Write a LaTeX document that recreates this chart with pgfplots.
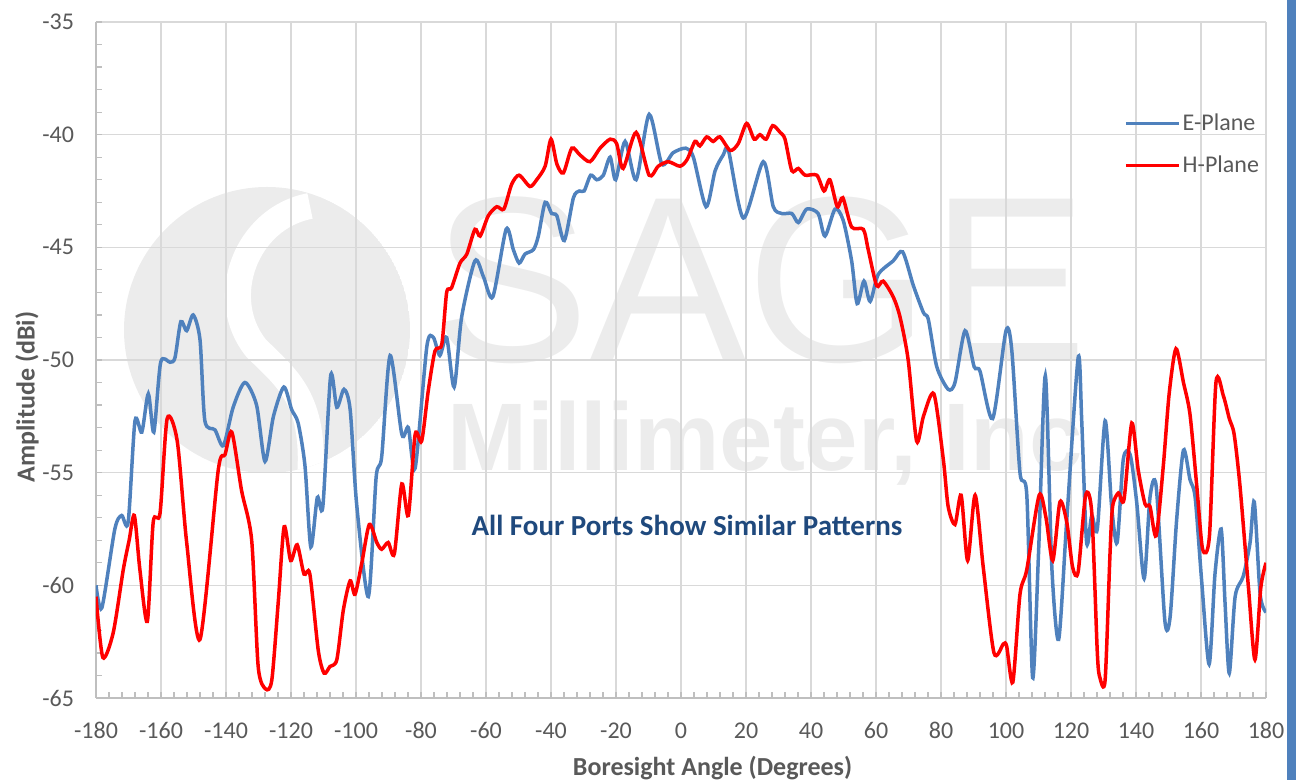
\documentclass[border=0pt]{standalone}
\usepackage{fontspec}
\setmainfont{Carlito}
\newfontfamily\wmfont{Liberation Sans}
\usepackage{pgfplots}
\usepackage{pgfplotstable}
\pgfplotsset{compat=1.18}

\definecolor{eplane}{HTML}{4F81BD}
\definecolor{hplane}{HTML}{FF0000}
\definecolor{txtgray}{HTML}{595959}
\definecolor{gridgray}{HTML}{D9D9D9}
\definecolor{axgray}{HTML}{BFBFBF}
\definecolor{wm}{HTML}{ECECEC}
\definecolor{note}{HTML}{1F497D}

% E-Plane pattern (angle in degrees, amplitude in dBi)
\pgfplotstableread{
ang amp
-180.0 -60.0
-178.2 -61.0
-174.2 -57.5
-172.1 -56.9
-170.1 -57.2
-168.0 -52.7
-165.9 -53.2
-163.9 -51.5
-162.2 -53.2
-160.1 -50.1
-157.2 -50.1
-155.7 -49.9
-153.9 -48.3
-152.1 -48.7
-150.1 -48.0
-148.0 -49.1
-146.5 -52.7
-143.4 -53.1
-140.8 -53.8
-137.8 -52.1
-134.2 -51.0
-130.6 -52.0
-128.0 -54.5
-125.4 -52.5
-122.2 -51.2
-119.8 -52.2
-117.8 -52.8
-115.7 -54.7
-113.9 -58.3
-111.9 -56.1
-110.2 -56.5
-107.8 -50.7
-105.9 -52.1
-103.7 -51.3
-101.8 -52.2
-99.8 -56.4
-96.2 -60.5
-93.8 -55.2
-92.1 -54.3
-89.5 -49.8
-85.9 -53.3
-83.9 -53.0
-81.8 -54.8
-78.2 -49.4
-76.2 -49.0
-74.2 -49.8
-72.1 -49.0
-69.8 -51.2
-67.5 -48.1
-63.4 -45.6
-60.8 -46.3
-57.9 -47.2
-53.8 -44.2
-51.6 -45.1
-49.8 -45.7
-48.0 -45.3
-45.4 -45.1
-43.9 -44.5
-41.8 -43.0
-39.8 -43.5
-38.2 -43.6
-35.9 -44.7
-33.1 -42.8
-31.3 -42.5
-29.8 -42.5
-27.8 -41.8
-25.9 -42.0
-23.9 -41.8
-21.8 -41.0
-20.1 -42.0
-17.2 -40.3
-13.8 -42.0
-9.8 -39.1
-5.9 -41.3
-2.4 -40.8
1.5 -40.6
3.8 -41.0
7.7 -43.2
10.5 -41.6
13.0 -40.9
14.6 -40.7
19.2 -43.7
25.3 -41.2
28.4 -43.2
31.0 -43.5
34.1 -43.5
36.1 -43.9
38.7 -43.3
42.2 -43.5
44.3 -44.5
47.4 -43.3
49.9 -43.8
52.5 -45.6
54.2 -47.5
56.3 -46.5
58.2 -47.4
60.7 -46.2
65.3 -45.6
68.2 -45.2
71.5 -46.7
74.6 -47.9
76.1 -48.2
78.7 -50.3
82.2 -51.3
84.3 -51.0
87.4 -48.7
90.2 -50.3
92.0 -50.5
95.9 -52.6
100.0 -48.7
101.8 -49.6
104.3 -55.0
106.4 -56.0
108.2 -64.1
110.0 -58.6
112.1 -50.7
114.1 -59.2
116.2 -62.4
118.7 -57.1
122.2 -49.9
123.3 -52.7
124.8 -58.1
126.4 -56.9
128.1 -57.5
130.5 -52.7
132.5 -56.5
134.2 -58.1
136.1 -54.4
138.2 -54.2
140.2 -56.3
142.5 -59.7
144.3 -56.1
146.2 -55.6
148.9 -61.6
150.5 -61.4
152.5 -57.1
154.6 -54.0
156.6 -55.3
158.2 -56.1
160.2 -59.8
162.5 -63.5
164.3 -59.5
166.2 -57.5
167.4 -60.8
168.7 -63.9
170.5 -60.5
173.0 -59.6
175.1 -58.1
176.4 -56.3
178.2 -60.4
180.0 -61.2
}\eplanedata

% H-Plane pattern
\pgfplotstableread{
ang amp
-180.0 -60.5
-177.9 -63.2
-174.7 -62.1
-171.6 -59.3
-169.8 -58.0
-168.2 -56.9
-166.5 -59.3
-164.2 -61.6
-162.4 -57.2
-160.3 -56.8
-158.1 -52.6
-155.0 -53.6
-152.1 -58.1
-148.0 -62.4
-142.4 -54.9
-140.3 -54.2
-138.2 -53.2
-135.2 -55.8
-132.1 -58.0
-130.1 -63.6
-127.8 -64.6
-125.9 -64.2
-123.9 -60.7
-122.1 -57.4
-120.1 -58.9
-118.1 -58.2
-116.0 -59.5
-114.2 -59.5
-111.6 -62.9
-109.8 -63.9
-108.0 -63.6
-105.9 -63.3
-103.9 -61.1
-101.8 -59.8
-100.3 -60.4
-98.2 -59.0
-95.9 -57.3
-93.6 -58.1
-92.1 -58.4
-90.1 -58.1
-88.2 -58.6
-85.9 -55.5
-83.9 -56.9
-81.8 -53.3
-79.8 -53.6
-77.8 -51.4
-75.7 -49.6
-73.6 -49.3
-72.1 -47.0
-70.6 -46.8
-68.0 -45.7
-65.9 -45.3
-63.4 -44.2
-61.8 -44.5
-59.3 -43.6
-56.7 -43.2
-54.5 -43.3
-52.1 -42.2
-49.8 -41.8
-46.5 -42.3
-44.4 -42.0
-41.8 -41.4
-40.0 -40.2
-38.2 -41.3
-36.2 -41.7
-33.6 -40.6
-31.1 -40.9
-28.0 -41.2
-24.9 -40.6
-21.8 -40.2
-19.8 -40.4
-17.8 -41.5
-13.8 -39.9
-9.8 -41.8
-7.0 -41.4
-3.9 -41.2
-0.3 -41.4
1.9 -41.1
4.3 -40.3
5.8 -40.5
7.9 -40.1
9.9 -40.3
12.0 -40.1
15.1 -40.7
17.6 -40.4
20.2 -39.5
22.5 -40.2
24.3 -40.0
26.2 -40.2
28.2 -39.6
30.5 -39.9
32.0 -40.2
34.1 -41.6
36.1 -41.5
38.2 -41.8
41.8 -41.8
44.0 -42.5
45.8 -42.0
48.1 -43.2
49.8 -42.8
52.5 -44.1
56.1 -44.2
57.6 -45.1
60.2 -46.7
62.2 -46.5
65.3 -47.2
67.4 -48.1
69.9 -50.0
72.5 -53.6
74.6 -52.5
77.8 -51.5
80.7 -54.4
82.2 -56.5
84.3 -57.3
86.2 -56.0
88.2 -58.9
90.5 -56.0
93.0 -59.2
96.3 -63.0
99.2 -62.6
100.2 -62.7
102.1 -64.3
104.3 -60.4
106.4 -59.3
110.2 -56.0
112.3 -57.0
114.4 -58.9
116.6 -56.3
118.7 -57.2
120.5 -59.2
122.2 -59.4
124.5 -56.0
126.4 -56.8
128.1 -63.0
128.9 -64.1
130.5 -64.2
132.0 -58.6
132.8 -56.5
134.6 -55.9
136.3 -56.2
138.7 -52.8
140.7 -54.9
142.8 -56.4
144.3 -56.5
146.2 -57.8
148.4 -54.7
150.2 -51.5
152.3 -49.5
154.6 -51.0
156.6 -52.4
158.7 -55.6
160.5 -58.4
162.6 -57.8
164.6 -51.0
166.9 -51.6
168.7 -52.6
170.2 -53.3
172.0 -55.6
174.6 -60.1
176.6 -63.3
178.4 -60.1
180.0 -59.0
}\hplanedata

\begin{document}
\begin{tikzpicture}
\useasboundingbox (-48pt,-41pt) rectangle (600pt,349pt);

% watermark behind the plot area
\begin{scope}
  \clip (85.5pt,184pt) circle (71.5pt);
  \fill[wm] (85.5pt,184pt) circle (71.5pt);
  \draw[white, line width=13pt] (107pt,246pt) .. controls (75pt,240pt) and (60pt,200pt) .. (80pt,175pt)
    .. controls (95pt,160pt) and (110pt,150pt) .. (107pt,110pt);
\end{scope}
\node[anchor=base, text=wm, inner sep=0pt, font=\wmfont\fontsize{118}{118}\selectfont] at (332pt,168pt) {SAGE};
\node[anchor=base, text=wm, inner sep=0pt, font=\wmfont\bfseries\fontsize{48}{48}\selectfont] at (334.5pt,113.5pt) {Millimeter, Inc};

\begin{axis}[
    at={(0pt,0pt)}, anchor=south west,
    scale only axis,
    width=585pt, height=338pt,
    xmin=-180, xmax=180,
    ymin=-65, ymax=-35,
    xtick={-180,-160,...,180},
    ytick={-65,-60,...,-35},
    minor x tick num=4,
    minor y tick num=4,
    grid=major,
    major grid style={draw=gridgray, line width=0.75pt},
    axis x line*=bottom,
    axis y line*=left,
    axis line style={draw=axgray, line width=0.75pt, -},
    tick align=inside,
    major tick length=3pt,
    minor tick length=3pt,
    tick style={draw=axgray, line width=0.6pt},
    /pgf/number format/assume math mode=true,
    ticklabel style={font=\fontsize{12}{14}\selectfont, text=txtgray},
    xticklabel style={anchor=center, yshift=-16.3pt},
    yticklabel style={xshift=-7.5pt},
    xlabel={Boresight Angle (Degrees)},
    ylabel={Amplitude (dBi)},
    label style={font=\bfseries\fontsize{13}{15}\selectfont, text=txtgray},
    xlabel style={at={(axis description cs:0.527,-0.1036)}, anchor=center},
    ylabel style={at={(axis description cs:-0.059,0.445)}, anchor=center},
    legend style={draw=none, fill=none, at={(0.8785,0.8676)}, anchor=north west,
      font=\fontsize{12}{14}\selectfont, text=txtgray,
      row sep=9pt, inner sep=0pt, nodes={inner sep=1pt}},
    legend cell align=left,
    legend image code/.code={\draw[#1] (0pt,0pt) -- (26.5pt,0pt);},
  ]
  \addplot[eplane, line width=1.75pt, smooth, tension=0.45] table[x=ang, y=amp] {\eplanedata};
  \addplot[hplane, line width=1.75pt, smooth, tension=0.45] table[x=ang, y=amp] {\hplanedata};
  \legend{E-Plane, H-Plane}
\end{axis}

\node[text=note, font=\bfseries\fontsize{14.5}{16}\selectfont] at (295.5pt,86.5pt) {All Four Ports Show Similar Patterns};

\fill[eplane] (595.5pt,-41pt) rectangle (600pt,349pt);
\end{tikzpicture}
\end{document}
